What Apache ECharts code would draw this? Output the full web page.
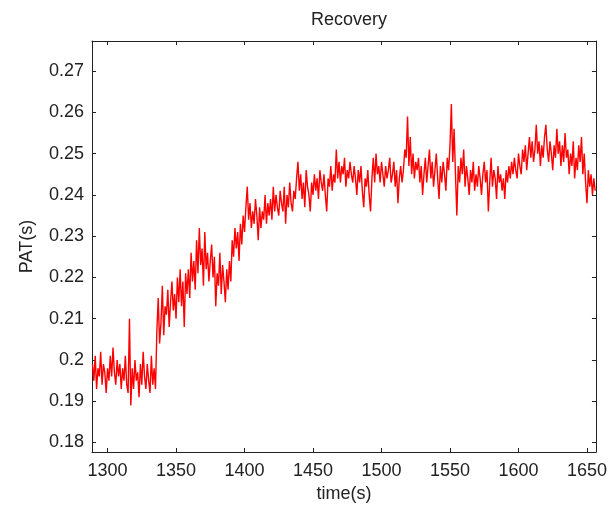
<!DOCTYPE html>
<html><head><meta charset="utf-8">
<script src="https://cdn.jsdelivr.net/npm/echarts@6/dist/echarts.min.js"></script>
<style>html,body{margin:0;padding:0;background:#fff}#c{width:610px;height:510px}</style>
</head><body><div id="c"></div>
<script>
const titleText = "Recovery";
const xName = "time(s)";
const yName = "PAT(s)";
const tStart = 1289;   // first sample time (s), 1 s spacing
const xMin = 1288.65, xMax = 1656.55;
const yMin = 0.1777, yMax = 0.2773;
const pat = [
0.199,0.195,0.201,0.193,0.198,0.196,0.202,0.194,0.199,0.197,
0.192,0.198,0.195,0.201,0.196,0.203,0.197,0.194,0.200,0.196,
0.199,0.193,0.198,0.195,0.201,0.194,0.192,0.210,0.189,0.198,
0.193,0.200,0.195,0.197,0.191,0.199,0.194,0.202,0.196,0.193,
0.199,0.195,0.192,0.201,0.194,0.198,0.193,0.207,0.215,0.204,
0.209,0.218,0.206,0.213,0.211,0.217,0.208,0.214,0.219,0.212,
0.216,0.210,0.220,0.214,0.222,0.213,0.219,0.208,0.221,0.216,
0.222,0.215,0.226,0.219,0.224,0.217,0.229,0.221,0.232,0.223,
0.227,0.218,0.231,0.222,0.226,0.219,0.224,0.228,0.220,0.225,
0.213,0.221,0.218,0.226,0.216,0.223,0.219,0.214,0.222,0.217,
0.224,0.219,0.229,0.225,0.232,0.227,0.231,0.224,0.233,0.228,
0.235,0.231,0.237,0.242,0.234,0.238,0.232,0.236,0.233,0.239,
0.235,0.229,0.237,0.232,0.236,0.234,0.240,0.233,0.238,0.235,
0.239,0.234,0.242,0.236,0.240,0.237,0.235,0.241,0.238,0.236,
0.242,0.233,0.240,0.237,0.243,0.238,0.236,0.241,0.239,0.244,
0.248,0.241,0.245,0.239,0.243,0.237,0.246,0.242,0.240,0.236,
0.243,0.240,0.245,0.241,0.244,0.239,0.246,0.243,0.241,0.245,
0.240,0.236,0.244,0.242,0.247,0.241,0.245,0.243,0.251,0.244,
0.248,0.243,0.247,0.245,0.249,0.242,0.246,0.244,0.248,0.245,
0.243,0.247,0.244,0.240,0.246,0.243,0.247,0.241,0.237,0.244,
0.242,0.246,0.240,0.236,0.244,0.249,0.243,0.250,0.245,0.247,
0.243,0.248,0.245,0.242,0.247,0.244,0.246,0.249,0.243,0.245,
0.248,0.242,0.246,0.238,0.244,0.247,0.243,0.246,0.251,0.249,
0.259,0.247,0.254,0.245,0.250,0.244,0.248,0.246,0.249,0.243,
0.247,0.240,0.245,0.249,0.243,0.247,0.251,0.244,0.248,0.242,
0.246,0.250,0.244,0.239,0.247,0.243,0.248,0.245,0.241,0.249,
0.246,0.252,0.262,0.248,0.256,0.245,0.235,0.247,0.243,0.249,
0.245,0.251,0.242,0.247,0.244,0.240,0.246,0.243,0.248,0.241,
0.245,0.242,0.247,0.244,0.240,0.245,0.248,0.243,0.246,0.236,
0.243,0.249,0.242,0.246,0.244,0.239,0.247,0.243,0.245,0.241,
0.244,0.239,0.246,0.243,0.247,0.244,0.248,0.245,0.249,0.246,
0.244,0.250,0.247,0.245,0.251,0.248,0.252,0.246,0.250,0.254,
0.249,0.253,0.248,0.251,0.257,0.250,0.253,0.247,0.252,0.249,
0.254,0.257,0.251,0.248,0.253,0.250,0.246,0.252,0.249,0.256,
0.250,0.253,0.247,0.252,0.248,0.255,0.249,0.251,0.245,0.250,
0.247,0.253,0.244,0.249,0.246,0.252,0.248,0.254,0.245,0.250,
0.243,0.238,0.246,0.242,0.245,0.240,0.244,0.241
];
const data = pat.map((v, i) => [tStart + i, v]);
const axisCol = '#222';
const font = 'Liberation Sans, Arial, sans-serif';
const fs = 18;
const chart = echarts.init(document.getElementById('c'), null, {renderer: 'canvas'});
const lineStyle = {color: axisCol, width: 1};
const tickStyle = {show: true, inside: true, length: 4, lineStyle: {color: axisCol, width: 1}};
chart.setOption({
  animation: false,
  backgroundColor: '#fff',
  title: {text: titleText, left: 344, top: 6, textAlign: 'center',
    textStyle: {fontFamily: font, fontSize: fs, fontWeight: 'normal', color: axisCol}},
  grid: {left: 92, right: 13, top: 41, bottom: 58},
  xAxis: [
    {type: 'value', min: xMin, max: xMax, splitNumber: 7, position: 'bottom',
     name: xName, nameLocation: 'middle', nameGap: 33,
     nameTextStyle: {fontFamily: font, fontSize: fs, color: axisCol},
     axisLine: {show: true, lineStyle}, axisTick: tickStyle, splitLine: {show: false},
     axisLabel: {fontFamily: font, fontSize: fs, color: axisCol, margin: 10,
       showMinLabel: false, showMaxLabel: false,
       formatter: v => (Math.abs(v % 50) < 1e-6 ? String(v) : '')}},
    {type: 'value', min: xMin, max: xMax, splitNumber: 7, position: 'top',
     axisLine: {show: true, lineStyle}, axisTick: tickStyle, splitLine: {show: false},
     axisLabel: {show: false}}
  ],
  yAxis: [
    {type: 'value', min: yMin, max: yMax, splitNumber: 10, position: 'left',
     name: yName, nameLocation: 'middle', nameGap: 56,
     nameTextStyle: {fontFamily: font, fontSize: fs, color: axisCol},
     axisLine: {show: true, lineStyle}, axisTick: tickStyle, splitLine: {show: false},
     axisLabel: {fontFamily: font, fontSize: fs, color: axisCol, margin: 8,
       showMinLabel: false, showMaxLabel: false,
       formatter: v => {const r = Math.round(v * 100) / 100; return Math.abs(v - r) < 1e-7 ? String(r) : '';}}},
    {type: 'value', min: yMin, max: yMax, splitNumber: 10, position: 'right',
     axisLine: {show: true, lineStyle}, axisTick: tickStyle, splitLine: {show: false},
     axisLabel: {show: false}}
  ],
  series: [{type: 'line', data: data, showSymbol: false, symbol: 'none',
    lineStyle: {color: '#ff0000', width: 1.4}, itemStyle: {color: '#ff0000'}}]
});
</script></body></html>
